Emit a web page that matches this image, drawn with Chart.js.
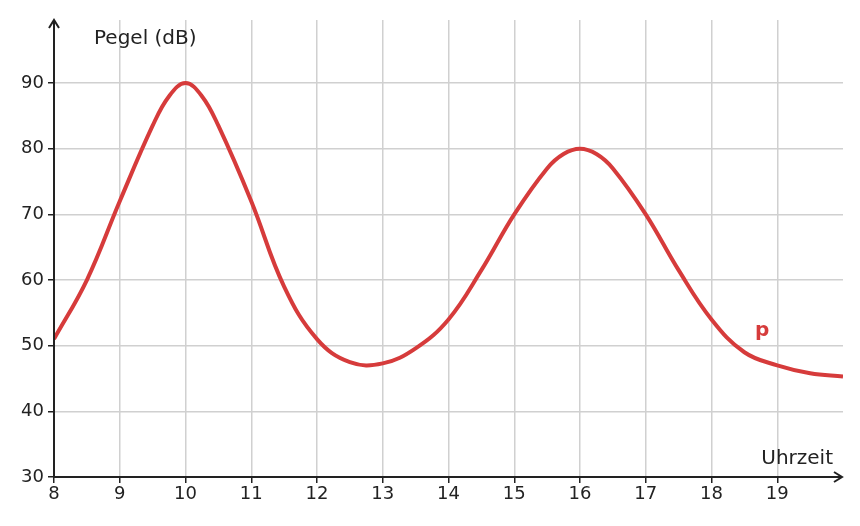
<!DOCTYPE html>
<html><head><meta charset="utf-8">
<script src="https://cdn.jsdelivr.net/npm/chart.js@4"></script>
<style>html,body{margin:0;background:#fff}#w{width:860px;height:526px}</style>
</head><body><div id="w"><canvas id="c"></canvas></div>
<script>
const hours = [8,8.5,9,9.5,9.75,10,10.25,10.5,11,11.5,12,12.5,13,13.5,14,14.5,15,15.5,15.75,16,16.25,16.5,17,17.5,18,18.5,19,19.5,20];
const pegel = [51,60,72,83.5,88,90,88,83.5,72,59,51,47.5,47.3,49.6,54,61.5,70,77,79.2,80,79.2,77,70,61.5,54,49,47,45.8,45.3];
const yTicks = [30,40,50,60,70,80,90];
const xTicks = [8,9,10,11,12,13,14,15,16,17,18,19];
const F = "'DejaVu Sans', sans-serif";
const deco = {id:'deco', afterDraw(ch){
  const c=ch.ctx, a=ch.chartArea, x=ch.scales.x, y=ch.scales.y;
  c.save(); c.strokeStyle='#222'; c.fillStyle='#222'; c.lineWidth=2;
  const x0=x.getPixelForValue(8), y0=y.getPixelForValue(30);
  c.beginPath(); c.moveTo(x0,y0); c.lineTo(x0,a.top); c.moveTo(x0,y0); c.lineTo(a.right-1,y0); c.stroke();
  c.beginPath(); c.moveTo(x0-5,a.top+8); c.lineTo(x0,a.top); c.lineTo(x0+5,a.top+8);
  c.moveTo(a.right-9,y0-5); c.lineTo(a.right-1,y0); c.lineTo(a.right-9,y0+5); c.stroke();
  c.font='20px '+F; c.textBaseline='alphabetic';
  c.textAlign='left'; c.fillText('Pegel (dB)',94,44);
  c.textAlign='right'; c.fillText('Uhrzeit',833,464);
  c.fillStyle='#d63b3b'; c.font='bold 20px '+F; c.textAlign='left';
  c.fillText('p',x.getPixelForValue(18.66),y.getPixelForValue(51.5));
  c.restore();
}};
new Chart(document.getElementById('c'),{type:'line',
 data:{datasets:[{data:hours.map((h,i)=>({x:h,y:pegel[i]})),borderColor:'#d63b3b',borderWidth:4,pointRadius:0,tension:0.4,fill:false}]},
 options:{responsive:true,maintainAspectRatio:false,animation:false,
  layout:{padding:{top:20,right:17,left:0,bottom:0}},
  plugins:{legend:{display:false},tooltip:{enabled:false}},
  scales:{
   x:{type:'linear',min:8,max:20,afterFit(s){s.height=49;},
      afterBuildTicks(s){s.ticks=xTicks.map(v=>({value:v}));},
      border:{display:false},
      grid:{color:ctx=>ctx.tick&&ctx.tick.value===8?'rgba(0,0,0,0)':'#d0d0d0',lineWidth:1.5,drawTicks:true,tickLength:6,tickColor:'#222'},
      ticks:{color:'#222',font:{family:F,size:18},padding:1,maxRotation:0}},
   y:{min:30,max:99.6,afterFit(s){s.width=54;},
      afterBuildTicks(s){s.ticks=yTicks.map(v=>({value:v}));},
      border:{display:false},
      grid:{color:ctx=>ctx.tick&&ctx.tick.value===30?'rgba(0,0,0,0)':'#d0d0d0',lineWidth:1.5,tickLength:6,tickColor:'#222'},
      ticks:{color:'#222',font:{family:F,size:18},padding:4}}
  }},plugins:[deco]});
</script></body></html>
